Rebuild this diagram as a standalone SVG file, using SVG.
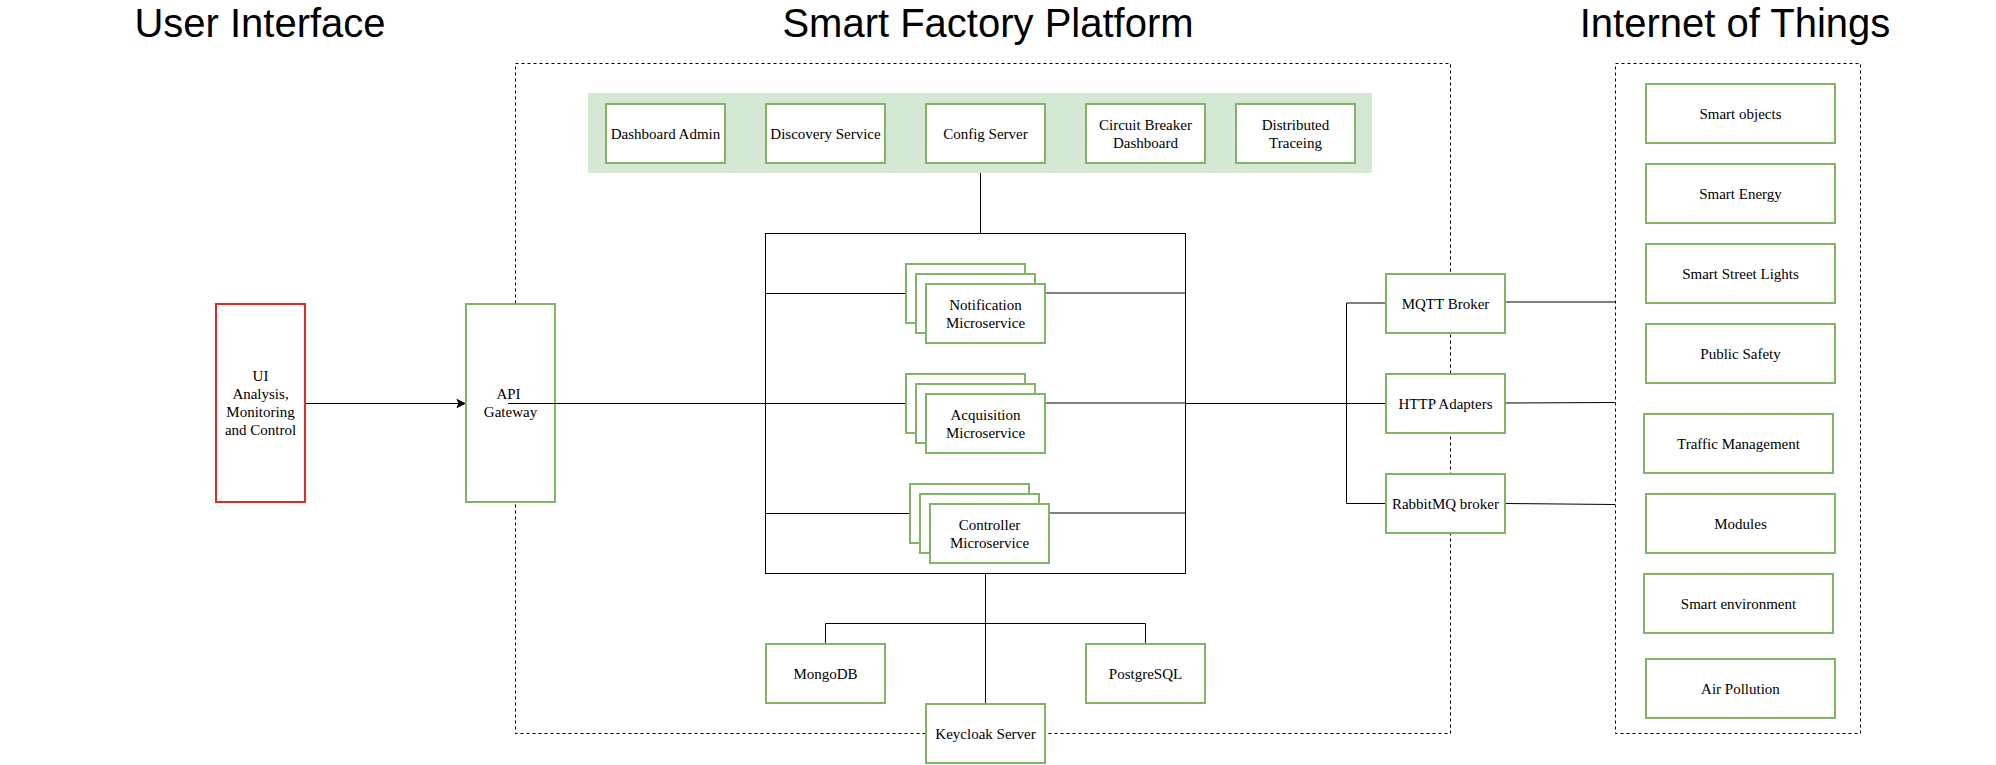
<svg xmlns="http://www.w3.org/2000/svg" width="1996" height="765" viewBox="0 0 1996 765">
<style>
.title{font-family:"Liberation Sans",Arial,sans-serif;font-size:40px;fill:#000;text-anchor:middle}
.lbl{font-family:"Liberation Serif","Times New Roman",serif;font-size:15px;fill:#000;text-anchor:middle}
.g{fill:#fff;stroke:#82b366;stroke-width:2}
.r{fill:#fff;stroke:#e02b2b;stroke-width:2}
.dash{fill:none;stroke:#000;stroke-width:1;stroke-dasharray:3 3}
.ln{fill:none;stroke:#000;stroke-width:1}
</style>
<defs>
<marker id="arr" markerUnits="userSpaceOnUse" markerWidth="12" markerHeight="10" refX="9" refY="5" orient="auto">
<path d="M1,1 L9,5 L1,9 L3,5 Z" fill="#000" stroke="#000" stroke-width="1"/>
</marker>
</defs>
<rect width="1996" height="765" fill="#fff"/>
<g id="titles">
<text class="title" x="260" y="37">User Interface</text>
<text class="title" x="988" y="37">Smart Factory Platform</text>
<text class="title" x="1735" y="37">Internet of Things</text>
</g>
<g id="containers">
<rect class="dash" x="515.5" y="63.5" width="935" height="670"/>
<rect class="dash" x="1615.5" y="63.5" width="245" height="670"/>
<rect x="588" y="93" width="784" height="80" fill="#d5e8d4"/>
<rect class="ln" x="765.5" y="233.5" width="420" height="340"/>
</g>
<g id="ui"><rect class="r" x="216" y="304" width="89" height="198"/>
<text class="lbl" x="260.5" y="381">UI</text><text class="lbl" x="260.5" y="399">Analysis,</text><text class="lbl" x="260.5" y="417">Monitoring</text><text class="lbl" x="260.5" y="435">and Control</text></g>
<g id="api"><rect class="g" x="466" y="304" width="89" height="198"/>
<text class="lbl" x="508.5" y="399">API</text><text class="lbl" x="510.5" y="417">Gateway</text></g>
<g id="dashboard-admin"><rect class="g" x="606" y="104" width="119" height="59"/><text class="lbl" x="665.5" y="138.5">Dashboard Admin</text></g>
<g id="discovery-service"><rect class="g" x="766" y="104" width="119" height="59"/><text class="lbl" x="825.5" y="138.5">Discovery Service</text></g>
<g id="config-server"><rect class="g" x="926" y="104" width="119" height="59"/><text class="lbl" x="985.5" y="138.5">Config Server</text></g>
<g id="circuit-breaker"><rect class="g" x="1086" y="104" width="119" height="59"/><text class="lbl" x="1145.5" y="129.5">Circuit Breaker</text><text class="lbl" x="1145.5" y="147.5">Dashboard</text></g>
<g id="distributed-tracing"><rect class="g" x="1236" y="104" width="119" height="59"/><text class="lbl" x="1295.5" y="129.5">Distributed</text><text class="lbl" x="1295.5" y="147.5">Traceing</text></g>
<g id="notification"><rect class="g" x="906" y="264" width="119" height="59"/><rect class="g" x="916" y="274" width="119" height="59"/><rect class="g" x="926" y="284" width="119" height="59"/>
<text class="lbl" x="985.5" y="309.5">Notification</text><text class="lbl" x="985.5" y="327.5">Microservice</text></g>
<g id="acquisition"><rect class="g" x="906" y="374" width="119" height="59"/><rect class="g" x="916" y="384" width="119" height="59"/><rect class="g" x="926" y="394" width="119" height="59"/>
<text class="lbl" x="985.5" y="419.5">Acquisition</text><text class="lbl" x="985.5" y="437.5">Microservice</text></g>
<g id="controller"><rect class="g" x="910" y="484" width="119" height="59"/><rect class="g" x="920" y="494" width="119" height="59"/><rect class="g" x="930" y="504" width="119" height="59"/>
<text class="lbl" x="989.5" y="529.5">Controller</text><text class="lbl" x="989.5" y="547.5">Microservice</text></g>
<g id="mongodb"><rect class="g" x="766" y="644" width="119" height="59"/><text class="lbl" x="825.5" y="678.5">MongoDB</text></g>
<g id="postgresql"><rect class="g" x="1086" y="644" width="119" height="59"/><text class="lbl" x="1145.5" y="678.5">PostgreSQL</text></g>
<g id="keycloak"><rect class="g" x="926" y="704" width="119" height="59"/><text class="lbl" x="985.5" y="738.5">Keycloak Server</text></g>
<g id="mqtt"><rect class="g" x="1386" y="274" width="119" height="59"/><text class="lbl" x="1445.5" y="308.5">MQTT Broker</text></g>
<g id="http"><rect class="g" x="1386" y="374" width="119" height="59"/><text class="lbl" x="1445.5" y="408.5">HTTP Adapters</text></g>
<g id="rabbitmq"><rect class="g" x="1386" y="474" width="119" height="59"/><text class="lbl" x="1445.5" y="508.5">RabbitMQ broker</text></g>
<g id="smart-objects"><rect class="g" x="1646" y="84" width="189" height="59"/><text class="lbl" x="1740.5" y="118.5">Smart objects</text></g>
<g id="smart-energy"><rect class="g" x="1646" y="164" width="189" height="59"/><text class="lbl" x="1740.5" y="198.5">Smart Energy</text></g>
<g id="smart-street-lights"><rect class="g" x="1646" y="244" width="189" height="59"/><text class="lbl" x="1740.5" y="278.5">Smart Street Lights</text></g>
<g id="public-safety"><rect class="g" x="1646" y="324" width="189" height="59"/><text class="lbl" x="1740.5" y="358.5">Public Safety</text></g>
<g id="traffic-management"><rect class="g" x="1644" y="414" width="189" height="59"/><text class="lbl" x="1738.5" y="448.5">Traffic Management</text></g>
<g id="modules"><rect class="g" x="1646" y="494" width="189" height="59"/><text class="lbl" x="1740.5" y="528.5">Modules</text></g>
<g id="smart-environment"><rect class="g" x="1644" y="574" width="189" height="59"/><text class="lbl" x="1738.5" y="608.5">Smart environment</text></g>
<g id="air-pollution"><rect class="g" x="1646" y="659" width="189" height="59"/><text class="lbl" x="1740.5" y="693.5">Air Pollution</text></g>
<g id="connectors">
<line class="ln" x1="306" y1="403.5" x2="465" y2="403.5" marker-end="url(#arr)"/>
<line class="ln" x1="508" y1="403.5" x2="905" y2="403.5"/>
<line class="ln" x1="765" y1="293.5" x2="905" y2="293.5"/>
<line class="ln" x1="1046" y1="293" x2="1185" y2="293"/>
<line class="ln" x1="1046" y1="403" x2="1185" y2="403"/>
<line class="ln" x1="1185" y1="403.5" x2="1385" y2="403.5"/>
<line class="ln" x1="765" y1="513.5" x2="909" y2="513.5"/>
<line class="ln" x1="1050" y1="513" x2="1185" y2="513"/>
<line class="ln" x1="980.5" y1="173" x2="980.5" y2="233"/>
<line class="ln" x1="985.5" y1="573" x2="985.5" y2="703"/>
<polyline class="ln" points="825.5,643 825.5,623.5 1145.5,623.5 1145.5,643"/>
<polyline class="ln" points="1385,303 1346.5,303 1346.5,503.5 1385,503.5"/>
<line class="ln" x1="1506" y1="302" x2="1615" y2="302"/>
<line class="ln" x1="1506" y1="403" x2="1615" y2="402.5"/>
<line class="ln" x1="1506" y1="503.5" x2="1615" y2="504.5"/>
</g>
</svg>
